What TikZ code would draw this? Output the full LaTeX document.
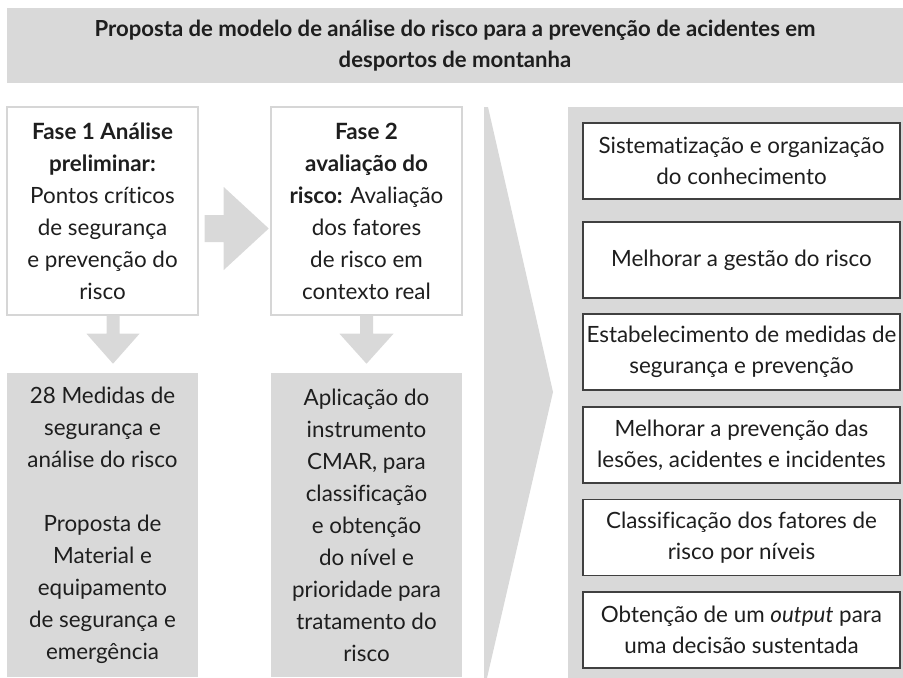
\documentclass[tikz,border=0pt]{standalone}
\usepackage{fontspec}
\setmainfont{Lato}[Ligatures={NoCommon,NoContextual,NoRare}]
\usepackage{tikz}
\usetikzlibrary{calc,positioning}
\definecolor{panelgray}{RGB}{217,217,217}
\definecolor{edgegray}{RGB}{214,214,214}
\definecolor{inkgray}{RGB}{30,30,30}

\begin{document}
\begin{tikzpicture}[x=0.75pt, y=-0.75pt, every node/.style={text=inkgray, inner sep=0pt},
    titleband/.style={fill=panelgray, minimum width=672pt, minimum height=56.25pt, align=center,
        font=\fontsize{16.6}{23.5}\selectfont\bfseries},
    phasebox/.style={draw=edgegray, line width=1.1pt, fill=white, minimum width=143.25pt, minimum height=156pt,
        align=center, font=\fontsize{16.8}{24}\selectfont},
    resultbox/.style={fill=panelgray, minimum width=143.25pt, minimum height=228pt, align=center,
        font=\fontsize{16.8}{24}\selectfont},
    goalbox/.style={draw=inkgray!85, line width=0.8pt, fill=white, minimum width=237.75pt, minimum height=57pt,
        align=center, font=\fontsize{16.8}{23.25}\selectfont},
    arrowgray/.style={fill=panelgray}]
        \useasboundingbox (0,0) rectangle (903,678);

        % Title
        \node[titleband] (title) at (455,45.5) {Proposta de modelo de análise do risco para a prevenção de acidentes em\\desportos de montanha};

        % Phases
        \node[phasebox] (fase1) at (102.5,211) {\textbf{Fase 1 Análise}\\\textbf{preliminar:}\\Pontos críticos\\de segurança\\e prevenção do\\risco};
        \node[phasebox] (fase2) at (366.5,211) {\textbf{Fase 2}\\\textbf{avaliação do}\\\textbf{risco:} Avaliação\\dos fatores\\de risco em\\contexto real};

        % Results
        \node[resultbox] (res1) at (102.5,525) {28 Medidas de\\segurança e\\análise do risco\\[24pt]Proposta de\\Material e\\equipamento\\de segurança e\\emergência};
        \node[resultbox] (res2) at (366.5,525) {Aplicação do\\instrumento\\CMAR, para\\classificação\\e obtenção\\do nível e\\prioridade para\\tratamento do\\risco};

        % Fase 1 -> Fase 2
        \fill[arrowgray] ($(fase1.east)+(6,4)$) -- ($(fase1.east)+(25,4)$) -- ($(fase1.east)+(25,-24)$)
            -- ($(fase1.east)+(70,17.5)$) -- ($(fase1.east)+(25,59)$) -- ($(fase1.east)+(25,31)$)
            -- ($(fase1.east)+(6,31)$) -- cycle;

        % Fase 1 -> results
        \fill[arrowgray] ($(fase1.south)+(4,0)$) -- ($(fase1.south)+(17,0)$) -- ($(fase1.south)+(17,18)$)
            -- ($(fase1.south)+(37,18)$) -- ($(fase1.south)+(10.5,48)$) -- ($(fase1.south)+(-16,18)$)
            -- ($(fase1.south)+(4,18)$) -- cycle;

        % Fase 2 -> results
        \fill[arrowgray] ($(fase2.south)+(-6.5,0)$) -- ($(fase2.south)+(6.5,0)$) -- ($(fase2.south)+(6.5,18)$)
            -- ($(fase2.south)+(27,18)$) -- ($(fase2.south)+(0,48)$) -- ($(fase2.south)+(-27,18)$)
            -- ($(fase2.south)+(-6.5,18)$) -- cycle;

        % Outcomes panel
        \node[fill=panelgray, minimum width=251.25pt, minimum height=428.25pt] (panel) at (735.5,392.5) {};
        \fill[arrowgray] (484,107) -- (488,107) -- (553,392) -- (487,678) -- (484,678) -- cycle;

        \node[goalbox] (goal1) at (741.5,161) {Sistematização e organização\\do conhecimento};
        \node[goalbox] (goal2) at (741.5,260) {Melhorar a gestão do risco};
        \node[goalbox] (goal3) at (741.5,352) {Estabelecimento de medidas de\\segurança e prevenção};
        \node[goalbox] (goal4) at (741.5,445) {Melhorar a prevenção das\\lesões, acidentes e incidentes};
        \node[goalbox] (goal5) at (741.5,537.5) {Classificação dos fatores de\\risco por níveis};
        \node[goalbox] (goal6) at (741.5,630) {Obtenção de um \textit{output} para\\uma decisão sustentada};
    \end{tikzpicture}
\end{document}
